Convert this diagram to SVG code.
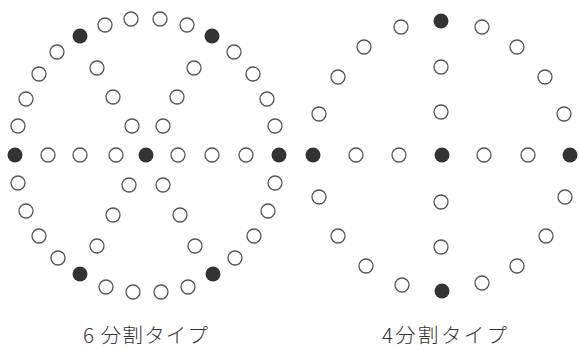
<svg xmlns="http://www.w3.org/2000/svg" width="579" height="349" viewBox="0 0 579 349">
<style>
.o{fill:#fff;stroke:#555;stroke-width:1.3}
.b{fill:#333;stroke:none}
.t{font-family:"Noto Sans CJK JP","Noto Sans",sans-serif;font-size:20.5px;font-weight:300;fill:#333}
</style>
<rect width="579" height="349" fill="#fff"/>
<g id="six">
<g id="six-outer">
<circle class="o" cx="105" cy="25" r="7"/><circle class="o" cx="131" cy="19" r="7"/><circle class="o" cx="160" cy="19" r="7"/><circle class="o" cx="187" cy="25" r="7"/>
<circle class="b" cx="80" cy="36" r="7.5"/><circle class="b" cx="212" cy="36" r="7.5"/>
<circle class="o" cx="57" cy="52" r="7"/><circle class="o" cx="234" cy="52" r="7"/>
<circle class="o" cx="39" cy="74" r="7"/><circle class="o" cx="253" cy="74" r="7"/>
<circle class="o" cx="26" cy="99" r="7"/><circle class="o" cx="267" cy="99" r="7"/>
<circle class="o" cx="18" cy="126" r="7"/><circle class="o" cx="275" cy="126" r="7"/>
<circle class="b" cx="15" cy="155" r="7.5"/><circle class="b" cx="279" cy="155" r="7.5"/>
<circle class="o" cx="18" cy="183" r="7"/><circle class="o" cx="275" cy="183" r="7"/>
<circle class="o" cx="26" cy="211" r="7"/><circle class="o" cx="268" cy="211" r="7"/>
<circle class="o" cx="39" cy="236" r="7"/><circle class="o" cx="254" cy="236" r="7"/>
<circle class="o" cx="58" cy="258" r="7"/><circle class="o" cx="235" cy="258" r="7"/>
<circle class="b" cx="80" cy="274" r="7.5"/><circle class="b" cx="213" cy="274" r="7.5"/>
<circle class="o" cx="106" cy="287" r="7"/><circle class="o" cx="133" cy="292" r="7"/><circle class="o" cx="161" cy="292" r="7"/><circle class="o" cx="188" cy="287" r="7"/>
</g>
<g id="six-inner">
<circle class="o" cx="48" cy="155" r="7"/><circle class="o" cx="80" cy="155" r="7"/><circle class="o" cx="116" cy="155" r="7"/>
<circle class="b" cx="146" cy="155" r="7.5"/>
<circle class="o" cx="178" cy="155" r="7"/><circle class="o" cx="212" cy="155" r="7"/><circle class="o" cx="246" cy="155" r="7"/>
<circle class="o" cx="97" cy="68" r="7"/><circle class="o" cx="194" cy="68" r="7"/>
<circle class="o" cx="113" cy="97" r="7"/><circle class="o" cx="177" cy="97" r="7"/>
<circle class="o" cx="132" cy="126" r="7"/><circle class="o" cx="163" cy="126" r="7"/>
<circle class="o" cx="129" cy="185" r="7"/><circle class="o" cx="163" cy="185" r="7"/>
<circle class="o" cx="113" cy="215" r="7"/><circle class="o" cx="180" cy="215" r="7"/>
<circle class="o" cx="97" cy="246" r="7"/><circle class="o" cx="195" cy="246" r="7"/>
</g>
<text class="t" x="83" y="343" textLength="125" lengthAdjust="spacing">6 分割タイプ</text>
</g>
<g id="four">
<g id="four-outer">
<circle class="b" cx="441" cy="21" r="7.5"/>
<circle class="o" cx="401" cy="27" r="7"/><circle class="o" cx="482" cy="27" r="7"/>
<circle class="o" cx="364" cy="47" r="7"/><circle class="o" cx="517" cy="47" r="7"/>
<circle class="o" cx="338" cy="77" r="7"/><circle class="o" cx="545" cy="77" r="7"/>
<circle class="o" cx="319" cy="114" r="7"/><circle class="o" cx="564" cy="114" r="7"/>
<circle class="b" cx="313" cy="155" r="7.5"/><circle class="b" cx="570" cy="155" r="7.5"/>
<circle class="o" cx="319" cy="197" r="7"/><circle class="o" cx="565" cy="197" r="7"/>
<circle class="o" cx="338" cy="236" r="7"/><circle class="o" cx="546" cy="236" r="7"/>
<circle class="o" cx="366" cy="266" r="7"/><circle class="o" cx="517" cy="266" r="7"/>
<circle class="o" cx="402" cy="285" r="7"/><circle class="o" cx="482" cy="283" r="7"/>
<circle class="b" cx="442" cy="291" r="7.5"/>
</g>
<g id="four-inner">
<circle class="o" cx="356" cy="155" r="7"/><circle class="o" cx="399" cy="155" r="7"/>
<circle class="b" cx="442" cy="155" r="7.5"/>
<circle class="o" cx="484" cy="155" r="7"/><circle class="o" cx="528" cy="155" r="7"/>
<circle class="o" cx="441" cy="67" r="7"/><circle class="o" cx="441" cy="112" r="7"/>
<circle class="o" cx="441" cy="202" r="7"/><circle class="o" cx="441" cy="247" r="7"/>
</g>
<text class="t" x="382" y="343" textLength="125" lengthAdjust="spacing">4分割タイプ</text>
</g>
</svg>
